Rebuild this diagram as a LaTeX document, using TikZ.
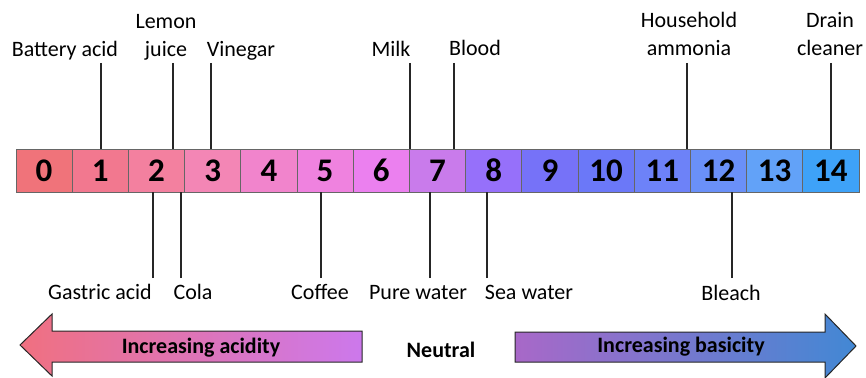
\documentclass[tikz,border=0pt]{standalone}
\usepackage{fontspec}
\setmainfont{Carlito}
\definecolor{ph0}{HTML}{F0737A}
\definecolor{ph1}{HTML}{F2788F}
\definecolor{ph2}{HTML}{F3809F}
\definecolor{ph3}{HTML}{F386B5}
\definecolor{ph4}{HTML}{F184CC}
\definecolor{ph5}{HTML}{EF82DF}
\definecolor{ph6}{HTML}{EB80EF}
\definecolor{ph7}{HTML}{C97BEB}
\definecolor{ph8}{HTML}{9670FA}
\definecolor{ph9}{HTML}{7672F8}
\definecolor{ph10}{HTML}{6B78F8}
\definecolor{ph11}{HTML}{6D82F8}
\definecolor{ph12}{HTML}{6A90F8}
\definecolor{ph13}{HTML}{62A2F8}
\definecolor{ph14}{HTML}{3EA2F8}
\definecolor{acidL}{HTML}{F07080}
\definecolor{acidR}{HTML}{CC78EC}
\definecolor{baseL}{HTML}{A868C8}
\definecolor{baseR}{HTML}{4288D4}
\tikzset{
  cell/.style = {draw=black!60, line width=0.8pt, minimum width=56.2pt,
                 minimum height=43pt, inner sep=0pt,
                 font=\fontsize{33}{36}\selectfont\bfseries},
  lbl/.style  = {anchor=base, inner sep=0pt, align=center,
                 font=\fontsize{22}{28}\selectfont},
  big/.style  = {anchor=base, inner sep=0pt,
                 font=\fontsize{22}{26}\selectfont\bfseries},
  conn/.style = {line width=1.2pt, black!85},
  arrowbox/.style = {draw=black!85, line width=1pt, line join=miter}
}
\begin{document}
\begin{tikzpicture}[x=1pt, y=-1pt]
  \useasboundingbox (0,0) rectangle (866,377);
  % the pH scale
  \foreach \v in {0,...,14}
    \node[cell, fill=ph\v] (c\v) at ({44.1+56.2*\v},170.5) {\v};

  % substances above the scale
  \node[lbl] (battery) at (65,57)  {Battery acid};
  \node[lbl] (lemon)   at (166,57) {Lemon\\juice};
  \node[lbl] (vinegar) at (241,57) {Vinegar};
  \node[lbl] (milk)    at (391,57) {Milk};
  \node[lbl] (blood)   at (475,56) {Blood};
  \node[lbl] (ammonia) at (689,56) {Household\\ammonia};
  \node[lbl] (drain)   at (830,56) {Drain\\cleaner};
  \foreach \name/\x in {battery/101, lemon/173, vinegar/211, milk/410,
                        blood/454, ammonia/687, drain/831} {
    \coordinate (t-\name) at (\x,63);
    \draw[conn] (t-\name) -- (t-\name |- c0.north);
  }

  % substances below the scale
  \node[lbl] (gastric) at (100,299) {Gastric acid};
  \node[lbl] (cola)    at (193,299) {Cola};
  \node[lbl] (coffee)  at (320,299) {Coffee};
  \node[lbl] (pure)    at (418,299) {Pure water};
  \node[lbl] (sea)     at (529,299) {Sea water};
  \node[lbl] (bleach)  at (731,300) {Bleach};
  \foreach \name/\x in {gastric/153, cola/181, coffee/321, pure/430,
                        sea/487, bleach/732} {
    \coordinate (b-\name) at (\x,278);
    \draw[conn] (b-\name) -- (b-\name |- c0.south);
  }

  % direction arrows
  \shade[arrowbox, left color=acidL, right color=acidR]
    (20,345) -- (52,314) -- (52,331) -- (362,331) -- (362,362)
    -- (52,362) -- (52,376) -- cycle;
  \shade[arrowbox, left color=baseL, right color=baseR]
    (515,332) -- (825,332) -- (825,314) -- (856,346) -- (825,378)
    -- (825,362) -- (515,362) -- cycle;
  \node[big] (acidity)  at (201,353) {Increasing acidity};
  \node[big] (neutral)  at (441,357) {Neutral};
  \node[big] (basicity) at (681,352) {Increasing basicity};
\end{tikzpicture}
\end{document}
